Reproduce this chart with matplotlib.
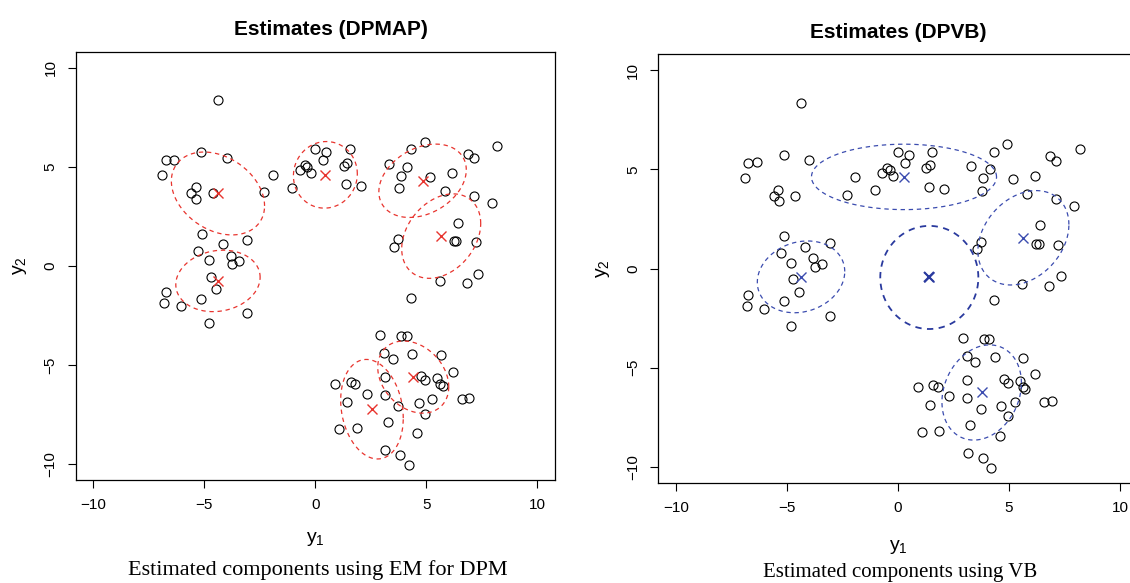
import matplotlib
matplotlib.use("Agg")
import matplotlib.pyplot as plt
import numpy as np

plt.rcParams['font.family'] = ['Liberation Sans', 'DejaVu Sans']
plt.rcParams['mathtext.fontset'] = 'custom'
plt.rcParams['mathtext.rm'] = 'Liberation Sans'
plt.rcParams['mathtext.it'] = 'Liberation Sans'

# observed data (y1, y2)
y1 = [-4.39, -5.16, -6.75, -6.36, -3.99, -6.91, -1.92, -5.40, -5.59, -5.37,
      -4.63, -2.31, -5.13, -3.07, -4.17, -5.28, -3.82, -4.80, -3.42, -3.76,
      -4.71, -4.47, -6.75, -5.16, -6.82, -6.06, -3.07, -4.81,
      0.00, 0.48, 1.55, 0.33, -0.48, -0.36, -0.70, -0.22, 1.43, 1.28,
      -1.05, 1.38, 2.07,
      4.93, 4.32, 8.20, 6.87, 7.14, 3.30, 4.14, 3.84, 5.16, 6.16,
      3.77, 5.82, 7.14, 7.95, 6.42, 3.72, 3.56, 6.23, 6.35, 7.23,
      7.34, 5.60, 6.81, 4.32,
      2.91, 3.88, 4.12, 3.10, 4.37, 5.64, 3.49, 6.18, 3.12, 4.77,
      4.95, 5.50, 5.62, 5.74, 0.90, 1.59, 1.80, 2.31, 3.12, 6.60,
      6.93, 5.25, 1.44, 3.72, 4.65, 4.95, 3.25, 1.07, 1.86, 4.59,
      3.15, 3.82, 4.20]
y2 = [8.35, 5.73, 5.34, 5.36, 5.45, 4.57, 4.59, 3.97, 3.68, 3.39,
      3.65, 3.73, 1.63, 1.28, 1.08, 0.77, 0.52, 0.30, 0.24, 0.07,
      -0.55, -1.16, -1.31, -1.66, -1.88, -2.05, -2.37, -2.89,
      5.88, 5.73, 5.87, 5.34, 5.09, 4.99, 4.84, 4.66, 5.21, 5.06,
      3.95, 4.12, 4.02,
      6.27, 5.88, 6.03, 5.66, 5.43, 5.16, 5.01, 4.55, 4.50, 4.66,
      3.92, 3.76, 3.50, 3.16, 2.17, 1.34, 0.97, 1.24, 1.24, 1.18,
      -0.39, -0.77, -0.86, -1.61,
      -3.50, -3.56, -3.56, -4.39, -4.47, -4.52, -4.71, -5.33, -5.61, -5.55,
      -5.78, -5.66, -5.95, -6.05, -5.97, -5.88, -5.97, -6.45, -6.52, -6.71,
      -6.67, -6.72, -6.86, -7.06, -6.92, -7.45, -7.87, -8.25, -8.17, -8.45,
      -9.29, -9.55, -10.05]

# DPMAP components: means, sds, correlations
map_mx = [-4.39, -4.39, 0.45, 4.83, 5.67, 2.55, 4.41]
map_my = [3.65, -0.76, 4.59, 4.29, 1.50, -7.23, -5.61]
map_sx = [2.10, 1.90, 1.44, 1.97, 1.78, 1.41, 1.60]
map_sy = [2.09, 1.55, 1.68, 1.85, 2.13, 2.51, 1.82]
map_rho = [-0.30, 0.12, 0.03, 0.30, 0.30, -0.18, -0.27]

# DPVB components
vb_mx = [0.27, -4.37, 1.41, 5.65, 3.77]
vb_my = [4.62, -0.42, -0.45, 1.55, -6.25]
vb_sx = [4.17, 1.97, 2.21, 2.05, 1.79]
vb_sy = [1.65, 1.81, 2.60, 2.38, 2.40]
vb_rho = [0.00, 0.15, 0.00, 0.28, 0.20]
vb_lw = [0.9, 0.9, 1.3, 0.9, 0.9]

RED = '#e8342e'
BLUE = '#3b4caf'
DKBLUE = '#2a3a9e'


def ellipse(mx, my, sx, sy, rho):
    t = np.linspace(0, 2 * np.pi, 200)
    x = mx + sx * np.cos(t)
    y = my + sy * (rho * np.cos(t) + np.sqrt(1 - rho ** 2) * np.sin(t))
    return x, y


def base_panel(ax, title, title_x, xlab_y, ylab_x):
    ax.plot(y1, y2, 'o', mfc='none', mec='black', ms=6.5, mew=0.8)
    ax.set_xlim(-10.8, 10.8)
    ax.set_ylim(-10.8, 10.8)
    ax.set_xticks([-10, -5, 0, 5, 10])
    ax.set_yticks([-10, -5, 0, 5, 10])
    ax.set_xticklabels(['\u221210', '\u22125', '0', '5', '10'])
    ax.set_yticklabels(['\u221210', '\u22125', '0', '5', '10'])
    ax.tick_params(length=6, width=0.8, labelsize=11, pad=7)
    for lab in ax.get_yticklabels():
        lab.set_rotation(90)
        lab.set_va('center')
    for s in ax.spines.values():
        s.set_linewidth(0.9)
    ax.set_title(title, fontsize=15, fontweight='bold', pad=12, x=title_x)
    ax.set_xlabel(r'$\mathrm{y}_1$', fontsize=14)
    ax.set_ylabel(r'$\mathrm{y}_2$', fontsize=14)
    ax.xaxis.set_label_coords(0.5, xlab_y)
    ax.yaxis.set_label_coords(ylab_x, 0.5)


fig = plt.figure(figsize=(11.3, 5.83), dpi=100)
ax1 = fig.add_axes([0.0670, 0.1767, 0.4242, 0.7346])
ax2 = fig.add_axes([0.5826, 0.1720, 0.4242, 0.7348])

base_panel(ax1, 'Estimates (DPMAP)', 0.533, -0.116, -0.097)
for i in range(len(map_mx)):
    ex, ey = ellipse(map_mx[i], map_my[i], map_sx[i], map_sy[i], map_rho[i])
    ax1.plot(ex, ey, color=RED, lw=0.9, dashes=(3.5, 3))
ax1.plot(map_mx, map_my, 'x', color=RED, ms=6.5, mew=1.0)

base_panel(ax2, 'Estimates (DPVB)', 0.5, -0.128, -0.097)
for i in range(len(vb_mx)):
    ex, ey = ellipse(vb_mx[i], vb_my[i], vb_sx[i], vb_sy[i], vb_rho[i])
    c = DKBLUE if vb_lw[i] > 1 else BLUE
    ax2.plot(ex, ey, color=c, lw=vb_lw[i], dashes=(3.5, 3))
ax2.plot(vb_mx, vb_my, 'x', color=BLUE, ms=6.5, mew=1.0)
ax2.plot(vb_mx[2], vb_my[2], 'x', color=DKBLUE, ms=6.5, mew=1.5)

fig.text(318 / 1130, 1 - 570 / 583, 'Estimated components using EM for DPM',
         family='Liberation Serif', fontsize=16, ha='center', va='center')
fig.text(900 / 1130, 1 - 572 / 583, 'Estimated components using VB',
         family='Liberation Serif', fontsize=15, ha='center', va='center')

fig.savefig('out.png', dpi=100)
